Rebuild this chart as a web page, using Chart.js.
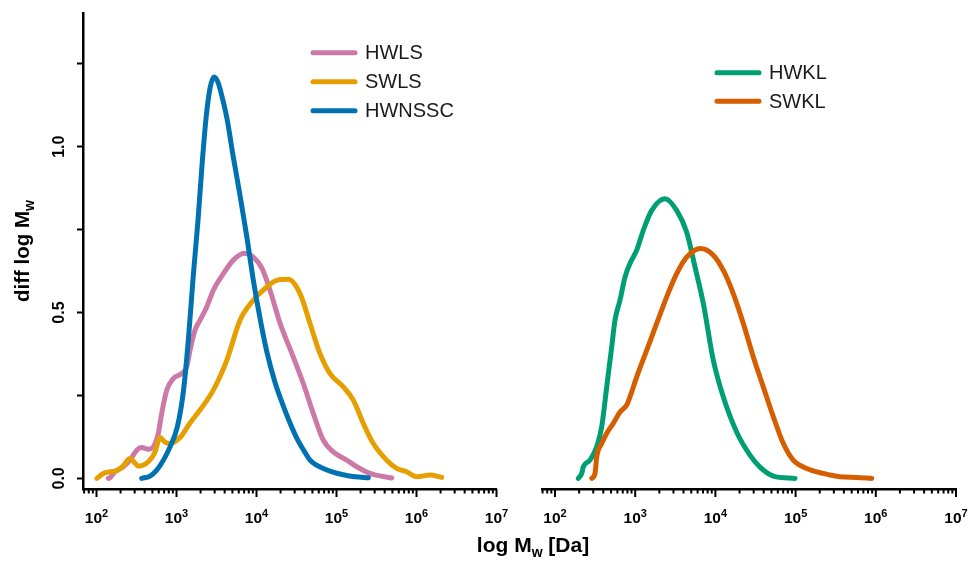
<!DOCTYPE html>
<html>
<head>
<meta charset="utf-8">
<script src="https://cdn.jsdelivr.net/npm/chart.js@4.4.1/dist/chart.umd.min.js"></script>
<style>
  html, body { margin: 0; padding: 0; background: #fff; }
  #wrap { position: relative; width: 969px; height: 561px; }
  #wrap canvas { position: absolute; left: 0; top: 0; }
</style>
</head>
<body>
<div id="wrap">
  <canvas id="leftPanel" width="969" height="561"></canvas>
  <canvas id="rightPanel" width="969" height="561"></canvas>
</div>
<script>
// MWD curves, x stored as log10(Mw / Da)
const hwlsLogM = [2.148, 2.169, 2.231, 2.335, 2.419, 2.503, 2.565, 2.648, 2.71, 2.773, 2.815, 2.878, 2.96, 3.065, 3.128, 3.169, 3.231, 3.294, 3.378, 3.46, 3.585, 3.71, 3.844, 3.96, 4.069, 4.169, 4.294, 4.46, 4.585, 4.71, 4.835, 4.96, 5.128, 5.253, 5.419, 5.69];
const hwlsW = [0.0, 0.002, 0.02, 0.035, 0.055, 0.085, 0.093, 0.088, 0.095, 0.136, 0.196, 0.266, 0.301, 0.316, 0.336, 0.386, 0.447, 0.477, 0.517, 0.567, 0.617, 0.658, 0.679, 0.667, 0.633, 0.567, 0.468, 0.366, 0.286, 0.196, 0.115, 0.080, 0.055, 0.035, 0.015, 0.001];

const swlsLogM = [2.005, 2.085, 2.169, 2.253, 2.331, 2.419, 2.469, 2.523, 2.648, 2.731, 2.794, 2.856, 2.919, 3.044, 3.169, 3.294, 3.46, 3.628, 3.794, 3.96, 4.128, 4.253, 4.398, 4.544, 4.669, 4.794, 4.919, 5.085, 5.21, 5.335, 5.46, 5.628, 5.753, 5.878, 6.003, 6.169, 6.315];
const swlsW = [0.0, 0.015, 0.02, 0.023, 0.037, 0.06, 0.049, 0.037, 0.05, 0.079, 0.123, 0.109, 0.105, 0.123, 0.167, 0.206, 0.266, 0.356, 0.477, 0.537, 0.577, 0.597, 0.600, 0.557, 0.467, 0.376, 0.316, 0.276, 0.236, 0.166, 0.105, 0.055, 0.030, 0.020, 0.005, 0.010, 0.003];

const hwnsscLogM = [2.565, 2.669, 2.753, 2.844, 2.919, 3.010, 3.085, 3.148, 3.21, 3.269, 3.319, 3.369, 3.419, 3.469, 3.519, 3.569, 3.631, 3.71, 3.794, 3.878, 3.956, 4.044, 4.131, 4.231, 4.331, 4.419, 4.506, 4.594, 4.669, 4.756, 4.835, 4.956, 5.085, 5.231, 5.398];
const hwnsscW = [0.0, 0.007, 0.025, 0.058, 0.095, 0.155, 0.26, 0.417, 0.612, 0.778, 0.944, 1.085, 1.176, 1.21, 1.194, 1.151, 1.085, 0.969, 0.853, 0.73, 0.604, 0.483, 0.38, 0.29, 0.221, 0.167, 0.12, 0.083, 0.055, 0.039, 0.030, 0.019, 0.011, 0.005, 0.002];

const hwklLogM = [2.291, 2.333, 2.353, 2.436, 2.52, 2.582, 2.645, 2.707, 2.748, 2.81, 2.873, 2.935, 3.019, 3.101, 3.206, 3.372, 3.517, 3.642, 3.746, 3.849, 3.974, 4.099, 4.266, 4.431, 4.556, 4.722, 4.993];
const hwklW = [0.0, 0.015, 0.035, 0.055, 0.095, 0.155, 0.276, 0.396, 0.477, 0.537, 0.607, 0.648, 0.688, 0.748, 0.808, 0.843, 0.808, 0.742, 0.637, 0.528, 0.356, 0.245, 0.139, 0.07, 0.034, 0.007, 0.0];

const swklLogM = [2.458, 2.499, 2.52, 2.582, 2.645, 2.727, 2.81, 2.894, 2.935, 3.019, 3.143, 3.268, 3.393, 3.517, 3.642, 3.814, 3.974, 4.099, 4.223, 4.348, 4.473, 4.597, 4.722, 4.847, 4.971, 5.138, 5.345, 5.554, 5.762, 5.949];
const swklW = [0.0, 0.015, 0.065, 0.105, 0.136, 0.166, 0.2, 0.221, 0.246, 0.306, 0.386, 0.467, 0.547, 0.617, 0.667, 0.693, 0.673, 0.627, 0.557, 0.467, 0.366, 0.276, 0.186, 0.105, 0.055, 0.030, 0.015, 0.005, 0.003, 0.0];

// axes
const decades = [2, 3, 4, 5, 6, 7];
const yTicks = [0, 0.25, 0.5, 0.75, 1.0, 1.25];
const yLabelled = [0, 0.5, 1.0];
const yRange = [-0.032, 1.403];

const FONT = '"Liberation Sans", Arial, Helvetica, sans-serif';

const toPoints = (logM, w) => logM.map((lg, i) => ({ x: Math.pow(10, lg), y: w[i] }));

const line = (label, color, logM, w, order) => ({
  label: label,
  data: toPoints(logM, w),
  borderColor: color,
  backgroundColor: color,
  borderWidth: 5,
  borderCapStyle: 'round',
  borderJoinStyle: 'round',
  pointRadius: 0,
  cubicInterpolationMode: 'monotone',
  fill: false,
  order: order
});

// text made of pieces (for sub/superscripts), placed as one run
function drawSplit(ctx, parts, x, y, align) {
  let total = 0;
  parts.forEach(p => { ctx.font = p.font; p.w = ctx.measureText(p.text).width; total += p.w; });
  let cx = align === 'center' ? x - total / 2 : x;
  parts.forEach(p => {
    ctx.font = p.font;
    ctx.fillText(p.text, cx, y + (p.dy || 0));
    cx += p.w;
  });
}

// log x axis: tick marks, 10^n labels, legend, titles
const panelDecor = {
  id: 'panelDecor',
  afterDraw(chart, args, opts) {
    const ctx = chart.ctx;
    const xs = chart.scales.x;
    const area = chart.chartArea;
    const base = area.bottom;
    ctx.save();

    // tick marks
    ctx.strokeStyle = '#000';
    ctx.lineWidth = 2;
    for (let n = 1; n <= 7; n++) {
      for (let k = 1; k <= 9; k++) {
        const v = k * Math.pow(10, n);
        if (v < xs.min * 0.9999 || v > xs.max * 1.0001) continue;
        const px = xs.getPixelForValue(v);
        ctx.beginPath();
        ctx.moveTo(px, base);
        ctx.lineTo(px, base + (k === 1 ? 8 : 4.5));
        ctx.stroke();
      }
    }

    // decade labels
    ctx.fillStyle = '#000';
    ctx.textAlign = 'left';
    ctx.textBaseline = 'alphabetic';
    decades.forEach(n => {
      const px = xs.getPixelForValue(Math.pow(10, n));
      drawSplit(ctx, [
        { text: '10', font: 'bold 15.5px ' + FONT },
        { text: String(n), font: 'bold 11px ' + FONT, dy: -6.5 }
      ], px, 523, 'center');
    });

    // legend
    const lg = opts.legend;
    ctx.font = '20px ' + FONT;
    ctx.textBaseline = 'middle';
    chart.data.datasets.slice().sort((a, b) => lg.order.indexOf(a.label) - lg.order.indexOf(b.label))
      .forEach((ds, i) => {
        const y = lg.y + i * lg.step;
        ctx.strokeStyle = ds.borderColor;
        ctx.lineWidth = 5;
        ctx.lineCap = 'round';
        ctx.beginPath();
        ctx.moveTo(lg.x, y);
        ctx.lineTo(lg.x + 42, y);
        ctx.stroke();
        ctx.fillStyle = '#1a1a1a';
        ctx.fillText(ds.label, lg.x + 52, y + 1);
      });

    if (opts.yAxis) {
      const ys = chart.scales.y;
      ctx.fillStyle = '#000';
      ctx.textBaseline = 'alphabetic';
      ctx.textAlign = 'left';
      yLabelled.forEach(v => {
        const py = ys.getPixelForValue(v);
        ctx.save();
        ctx.translate(63.5, py);
        ctx.rotate(-Math.PI / 2);
        drawSplit(ctx, [{ text: v.toFixed(1), font: 'bold 16px ' + FONT }], 0, 0, 'center');
        ctx.restore();
      });

      // y title
      ctx.save();
      ctx.translate(29, (area.top + area.bottom) / 2);
      ctx.rotate(-Math.PI / 2);
      drawSplit(ctx, [
        { text: 'diff log M', font: 'bold 20.5px ' + FONT },
        { text: 'w', font: 'bold 14px ' + FONT, dy: 5 }
      ], 0, 0, 'center');
      ctx.restore();

      // x title, shared by both panels
      drawSplit(ctx, [
        { text: 'log M', font: 'bold 21px ' + FONT },
        { text: 'w', font: 'bold 14px ' + FONT, dy: 5 },
        { text: ' [Da]', font: 'bold 21px ' + FONT }
      ], 533, 552, 'center');
    }
    ctx.restore();
  }
};

function panelOptions(xMinLog, padding, showY, legend) {
  return {
    responsive: false,
    animation: false,
    events: [],
    layout: { padding: padding },
    plugins: {
      legend: { display: false },
      tooltip: { enabled: false },
      panelDecor: { legend: legend, yAxis: showY }
    },
    scales: {
      x: {
        type: 'logarithmic',
        min: Math.pow(10, xMinLog),
        max: 1e7,
        ticks: { display: false },
        grid: { display: true, drawOnChartArea: false, drawTicks: false },
        border: { display: true, color: '#000', width: 2.5 },
        afterFit: scale => { scale.height = 72; }
      },
      y: {
        display: showY,
        min: yRange[0],
        max: yRange[1],
        ticks: { display: false },
        afterBuildTicks: scale => { scale.ticks = yTicks.map(v => ({ value: v })); },
        grid: { display: true, drawOnChartArea: false, drawTicks: true, tickLength: 6, tickWidth: 2, tickColor: '#000' },
        border: { display: true, color: '#000', width: 2.5 },
        afterFit: scale => { scale.width = showY ? 83 : 0; }
      }
    }
  };
}

new Chart(document.getElementById('leftPanel'), {
  type: 'line',
  data: {
    datasets: [
      line('HWLS', '#CC79A7', hwlsLogM, hwlsW, 2),
      line('SWLS', '#E69F00', swlsLogM, swlsW, 1),
      line('HWNSSC', '#0072B2', hwnsscLogM, hwnsscW, 0)
    ]
  },
  options: panelOptions(1.8313, { left: 0, top: 13, right: 472.5, bottom: 0 }, true,
    { x: 313, y: 52.7, step: 29, order: ['HWLS', 'SWLS', 'HWNSSC'] }),
  plugins: [panelDecor]
});

new Chart(document.getElementById('rightPanel'), {
  type: 'line',
  data: {
    datasets: [
      line('HWKL', '#009E73', hwklLogM, hwklW, 1),
      line('SWKL', '#D55E00', swklLogM, swklW, 0)
    ]
  },
  options: panelOptions(1.8379, { left: 542, top: 13, right: 13, bottom: 0 }, false,
    { x: 717, y: 72.7, step: 28.5, order: ['HWKL', 'SWKL'] }),
  plugins: [panelDecor]
});
</script>
</body>
</html>
